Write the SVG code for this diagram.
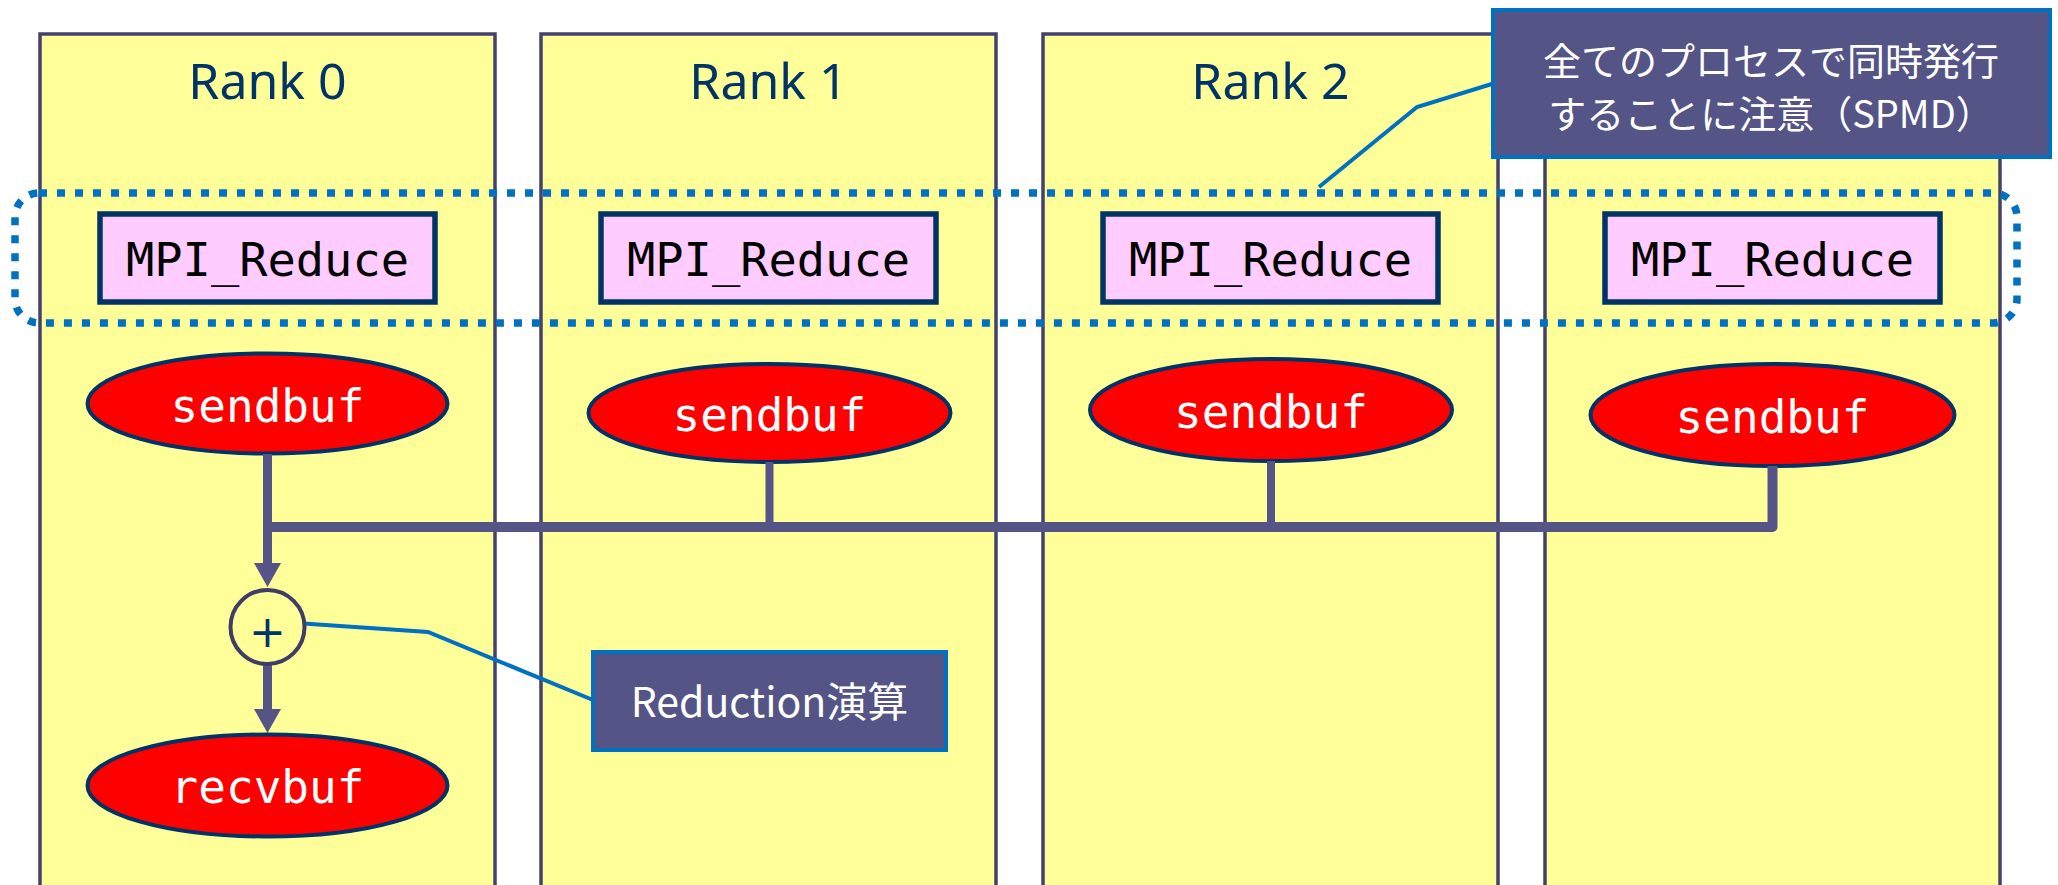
<svg xmlns="http://www.w3.org/2000/svg" width="2058" height="885" viewBox="0 0 2058 885">
<style>
.col{fill:#ffff99;stroke:#44426c;stroke-width:3.5}
.title{font-family:"Noto Sans","DejaVu Sans",sans-serif;font-size:50px;fill:#003366;text-anchor:middle}
.fn{fill:#ffccff;stroke:#003366;stroke-width:5.5}
.fntxt{font-family:"DejaVu Sans Mono","Liberation Mono",monospace;font-size:47px;fill:#000;text-anchor:middle}
.buf{fill:#ff0000;stroke:#003366;stroke-width:4}
.buftxt{font-family:"DejaVu Sans Mono","Liberation Mono",monospace;font-size:46px;fill:#fff;text-anchor:middle}
.wire{fill:none;stroke:#545487;stroke-linecap:butt;stroke-linejoin:round}
.lead{fill:none;stroke:#0070c0;stroke-width:4;stroke-linejoin:miter}
.note{fill:#545487;stroke:#0070c0;stroke-width:4}
.notetxt{font-family:"Noto Sans CJK JP","Noto Sans",sans-serif;fill:#fff;text-anchor:middle}
</style>
<defs>
<marker id="arr" markerUnits="userSpaceOnUse" markerWidth="24" markerHeight="28" viewBox="0 -14 24 28" refX="1" refY="0" orient="auto">
<path d="M0,-13.5 L24,0 L0,13.5 Z" fill="#545487"/>
</marker>
</defs>

<g id="rank0">
<rect class="col" x="40" y="34" width="455" height="880"/>
<text class="title" x="267.5" y="99">Rank 0</text>
<rect class="fn" x="100" y="214" width="335" height="88"/>
<text class="fntxt" x="267.5" y="276">MPI_Reduce</text>
<ellipse class="buf" cx="267.5" cy="403.5" rx="180" ry="50"/>
<text class="buftxt" x="267.5" y="422">sendbuf</text>
</g>
<g id="rank1">
<rect class="col" x="541" y="34" width="455" height="880"/>
<text class="title" x="768.5" y="99">Rank 1</text>
<rect class="fn" x="601" y="214" width="335" height="88"/>
<text class="fntxt" x="768.5" y="276">MPI_Reduce</text>
<ellipse class="buf" cx="769.5" cy="413" rx="181" ry="49"/>
<text class="buftxt" x="769.5" y="431">sendbuf</text>
</g>
<g id="rank2">
<rect class="col" x="1043" y="34" width="455" height="880"/>
<text class="title" x="1270.5" y="99">Rank 2</text>
<rect class="fn" x="1103" y="214" width="335" height="88"/>
<text class="fntxt" x="1270.5" y="276">MPI_Reduce</text>
<ellipse class="buf" cx="1271" cy="410" rx="181" ry="51"/>
<text class="buftxt" x="1271" y="428">sendbuf</text>
</g>
<g id="rank3">
<rect class="col" x="1545" y="34" width="455" height="880"/>
<rect class="fn" x="1605" y="214" width="335" height="88"/>
<text class="fntxt" x="1772.5" y="276">MPI_Reduce</text>
<ellipse class="buf" cx="1772.5" cy="415" rx="182" ry="51"/>
<text class="buftxt" x="1772.5" y="433">sendbuf</text>
</g>

<g id="spmd-group">
<rect x="15" y="193" width="2002" height="130" rx="24" ry="24" fill="none" stroke="#0070c0" stroke-width="7.5" stroke-dasharray="8 10"/>
</g>

<g id="connectors">
<path class="wire" stroke-width="9" d="M267.5,454 V564" marker-end="url(#arr)"/>
<path class="wire" stroke-width="8" d="M769.5,462 V524"/>
<path class="wire" stroke-width="8" d="M1271,461 V524"/>
<path class="wire" stroke-width="10" d="M263,527 H1772.5 V466"/>
<path class="wire" stroke-width="9" d="M267.5,664 V710" marker-end="url(#arr)"/>
<polyline class="lead" points="296,623 428,632 593,700"/>
<polyline class="lead" points="1319,187 1417,107 1495,83"/>
</g>

<g id="reduce-op">
<circle cx="267.5" cy="627" r="37" fill="#ffff99" stroke="#3f3c68" stroke-width="4"/>
<text x="267.5" y="647" font-family="DejaVu Sans, sans-serif" font-size="44" fill="#003366" text-anchor="middle">+</text>
</g>

<g id="recvbuf">
<ellipse class="buf" cx="267.5" cy="785.5" rx="180" ry="51"/>
<text class="buftxt" x="267.5" y="803">recvbuf</text>
</g>

<g id="note-reduction">
<rect class="note" x="593" y="652" width="353" height="98"/>
<text class="notetxt" x="769.5" y="717" font-size="41">Reduction演算</text>
</g>

<g id="note-spmd">
<rect class="note" x="1493" y="10" width="557" height="147"/>
<text class="notetxt" x="1771" y="75" font-size="38">全てのプロセスで同時発行</text>
<text class="notetxt" x="1771" y="128" font-size="38">することに注意（SPMD）</text>
</g>
</svg>
